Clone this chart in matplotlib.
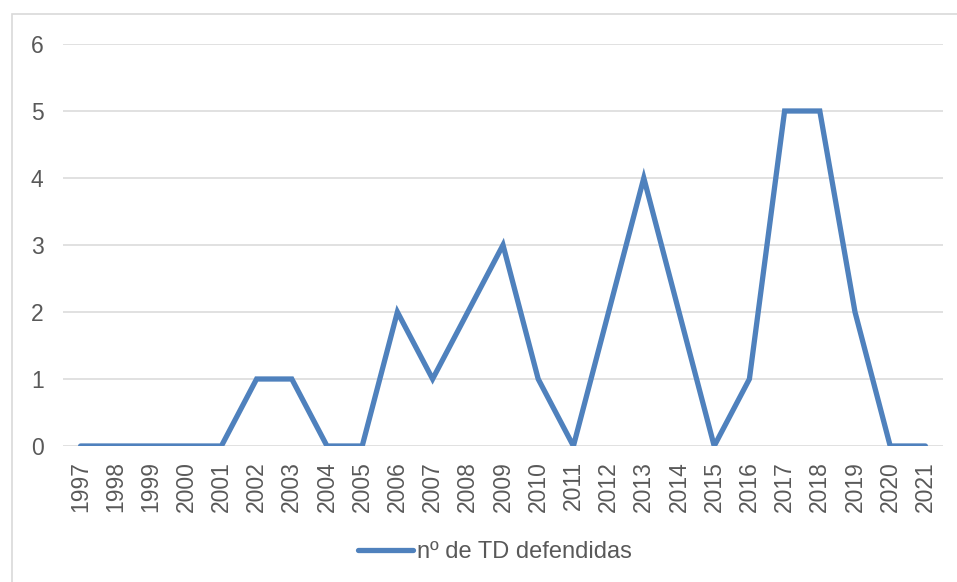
import matplotlib.pyplot as plt
from matplotlib.patches import Rectangle

anos = [str(a) for a in range(1997, 2022)]
teses = [0, 0, 0, 0, 0, 1, 1, 0, 0, 2, 1, 2, 3, 1, 0, 2, 4, 2, 0, 1, 5, 5, 2, 0, 0]

plt.rcParams['font.family'] = ['Liberation Sans', 'DejaVu Sans']

fig = plt.figure(figsize=(9.57, 5.82), dpi=100)
ax = fig.add_axes([63 / 957, 1 - 446 / 582, 880 / 957, 402 / 582])

# moldura exterior do gráfico
fig.patches.append(Rectangle((12 / 957, -0.05), 1.0, 1 - 14 / 582 + 0.05,
                             transform=fig.transFigure, fill=False,
                             edgecolor='#D9D9D9', linewidth=1.2))

x = list(range(len(anos)))
ax.plot(x, teses, color='#4F81BD', linewidth=3.8, solid_joinstyle='miter',
        solid_capstyle='round', label='nº de TD defendidas', zorder=3)

ax.set_xlim(-0.5, len(anos) - 0.5)
ax.set_ylim(0, 6)
ax.set_yticks(range(7))
ax.set_xticks(x)
ax.set_xticklabels(anos, rotation=90)
ax.grid(axis='y', color='#D9D9D9', linewidth=1.1)
ax.set_axisbelow(True)
for s in ax.spines.values():
    s.set_visible(False)
ax.tick_params(length=0, labelsize=16.5, labelcolor='#595959')
ax.tick_params(axis='y', pad=14)
ax.tick_params(axis='x', pad=11)

fig.legend(loc='center', bbox_to_anchor=(495 / 957, 1 - 552 / 582), frameon=False,
           fontsize=17, labelcolor='#595959', handlelength=2.3,
           handletextpad=0.17, borderpad=0, borderaxespad=0)

fig.savefig('out.png', dpi=100)
